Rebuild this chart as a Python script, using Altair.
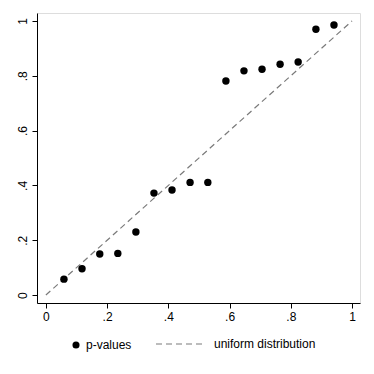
import altair as alt
import pandas as pd

# expected (uniform) quantiles on x, sorted p-values on y
x_expected = [0.059, 0.118, 0.176, 0.235, 0.294, 0.353, 0.412, 0.471,
              0.529, 0.588, 0.647, 0.706, 0.765, 0.824, 0.882, 0.941]
p_values = [0.058, 0.096, 0.150, 0.152, 0.230, 0.372, 0.383, 0.411,
            0.411, 0.781, 0.818, 0.824, 0.842, 0.850, 0.970, 0.985]
line_x = [0.0, 1.0]
line_y = [0.0, 1.0]
tick_values = [0, 0.2, 0.4, 0.6, 0.8, 1.0]

pts = pd.DataFrame({"x": x_expected, "y": p_values, "series": "p-values"})
ref = pd.DataFrame({"x": line_x, "y": line_y, "series2": "uniform distribution"})

FONT = "Liberation Sans"
label_expr = ("datum.value == 0 ? '0' : datum.value == 1 ? '1' : "
              "replace(format(datum.value, '.1f'), '0.', '.')")

xscale = alt.Scale(domain=[-0.029, 1.026], nice=False, zero=False)
yscale = alt.Scale(domain=[-0.029, 1.029], nice=False, zero=False)

xaxis = alt.Axis(values=tick_values, labelExpr=label_expr, title=None, grid=False,
                 tickSize=5, labelPadding=3, domainColor="#000000", tickColor="#000000",
                 labelColor="#000000", labelFontSize=12, labelFont=FONT,
                 labelFlush=False, labelOverlap=False)
yaxis = alt.Axis(values=tick_values, labelExpr=label_expr, title=None, grid=False,
                 tickSize=5, labelPadding=3, domainColor="#000000", tickColor="#000000",
                 labelColor="#000000", labelFontSize=12, labelFont=FONT,
                 labelAngle=270, labelAlign="center", labelBaseline="bottom",
                 labelFlush=False, labelOverlap=False)

points = alt.Chart(pts).mark_point(filled=True, size=55, color="black", opacity=1).encode(
    x=alt.X("x:Q", scale=xscale, axis=xaxis),
    y=alt.Y("y:Q", scale=yscale, axis=yaxis),
    shape=alt.Shape("series:N",
                    scale=alt.Scale(domain=["p-values"], range=["circle"]),
                    legend=alt.Legend(title=None, orient="none", legendX=33, legendY=326,
                                      symbolType="circle", symbolSize=50,
                                      symbolFillColor="black", symbolStrokeColor="black",
                                      labelFont=FONT, labelFontSize=12, labelColor="#000000",
                                      labelOffset=4)),
)

line = alt.Chart(ref).mark_line(color="#7a7a7a", strokeWidth=1.2).encode(
    x=alt.X("x:Q", scale=xscale),
    y=alt.Y("y:Q", scale=yscale),
    strokeDash=alt.StrokeDash("series2:N",
                              scale=alt.Scale(domain=["uniform distribution"], range=[[6, 4]]),
                              legend=alt.Legend(title=None, orient="none", legendX=118, legendY=306,
                                                symbolType="stroke", symbolSize=2304,
                                                symbolStrokeColor="#7a7a7a", symbolStrokeWidth=1.2,
                                                labelFont=FONT, labelFontSize=12,
                                                labelColor="#000000", labelOffset=9)),
)

chart = alt.layer(line, points).properties(
    width=323, height=290,
    autosize=alt.AutoSizeParams(type="none"),
    padding={"left": 29, "top": 5, "right": 6, "bottom": 56},
).configure_view(stroke=None).configure(background="white")

chart.save("out.html", embed_options={"renderer": "svg", "actions": False})
